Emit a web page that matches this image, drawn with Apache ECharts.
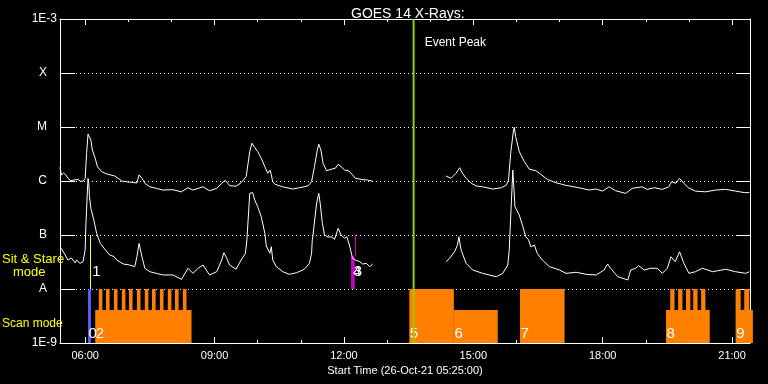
<!DOCTYPE html>
<html><head><meta charset="utf-8">
<script src="https://cdn.jsdelivr.net/npm/echarts@6/dist/echarts.min.js"></script>
<style>html,body{margin:0;padding:0;background:#000;}#c{width:768px;height:384px;}</style>
</head><body><div id="c"></div>
<script>
// ---- data (time "HH:MM", flux W/m^2) ----
const longData = [["05:25",1.8e-6],["05:27",1.3e-6],["05:30",1.4e-6],["05:33",1.3e-6],["05:36",1.12e-6],["05:40",1.01e-6],["05:44",1.04e-6],["05:50",1.07e-6],["05:53",0.99e-6],["05:57",0.99e-6],["06:00",1.12e-6],["06:02",3.26e-6],["06:04",7.4e-6],["06:06",7.1e-6],["06:08",5.7e-6],["06:10",3.75e-6],["06:14",2.63e-6],["06:17",1.84e-6],["06:23",1.49e-6],["06:30",1.35e-6],["06:41",1.24e-6],["06:46",1.12e-6],["06:51",1.0e-6],["07:02",0.95e-6],["07:12",0.92e-6],["07:15",1.3e-6],["07:19",1.12e-6],["07:23",0.91e-6],["07:30",0.78e-6],["07:39",0.73e-6],["07:48",0.68e-6],["08:02",0.69e-6],["08:14",0.63e-6],["08:23",0.75e-6],["08:30",0.68e-6],["08:37",0.73e-6],["08:44",0.78e-6],["08:53",0.66e-6],["09:03",0.73e-6],["09:10",0.91e-6],["09:15",1.03e-6],["09:21",0.82e-6],["09:30",0.80e-6],["09:37",0.93e-6],["09:44",1.2e-6],["09:49",3.5e-6],["09:52",5.0e-6],["09:56",4.17e-6],["10:00",3.5e-6],["10:05",2.63e-6],["10:10",1.84e-6],["10:14",1.39e-6],["10:17",1.6e-6],["10:19",1.3e-6],["10:21",0.97e-6],["10:24",0.87e-6],["10:35",0.78e-6],["10:49",0.71e-6],["10:58",0.75e-6],["11:10",0.81e-6],["11:15",0.97e-6],["11:19",1.84e-6],["11:23",3.75e-6],["11:25",4.8e-6],["11:28",3.75e-6],["11:31",2.13e-6],["11:36",1.55e-6],["11:42",1.65e-6],["11:48",1.72e-6],["11:52",2.04e-6],["11:56",1.84e-6],["12:01",1.6e-6],["12:07",1.53e-6],["12:12",1.3e-6],["12:16",1.12e-6],["12:24",1.07e-6],["12:33",1.04e-6],["12:40",0.99e-6],["13:30",null],["14:22",1.24e-6],["14:29",1.12e-6],["14:36",1.39e-6],["14:41",1.76e-6],["14:45",1.39e-6],["14:50",1.12e-6],["14:57",0.91e-6],["15:04",0.81e-6],["15:13",0.78e-6],["15:27",0.71e-6],["15:39",0.75e-6],["15:46",0.84e-6],["15:49",1.04e-6],["15:52",3.26e-6],["15:56",8.8e-6],["15:57",9.9e-6],["15:59",6.6e-6],["16:04",3.5e-6],["16:11",2.28e-6],["16:18",1.65e-6],["16:27",1.55e-6],["16:34",1.33e-6],["16:43",1.07e-6],["16:55",0.93e-6],["17:09",0.83e-6],["17:27",0.75e-6],["17:41",0.68e-6],["17:51",0.71e-6],["18:00",0.65e-6],["18:09",0.78e-6],["18:18",0.66e-6],["18:32",0.59e-6],["18:41",0.73e-6],["18:55",0.78e-6],["19:02",0.70e-6],["19:12",0.75e-6],["19:23",0.70e-6],["19:32",0.78e-6],["19:36",0.97e-6],["19:42",0.91e-6],["19:47",1.12e-6],["19:53",0.91e-6],["19:59",0.75e-6],["20:09",0.65e-6],["20:23",0.63e-6],["20:37",0.68e-6],["20:51",0.70e-6],["21:05",0.65e-6],["21:17",0.61e-6],["21:24",0.61e-6]];

const shortData = [["05:25",6.0e-8],["05:28",5.3e-8],["05:32",4.3e-8],["05:36",3.44e-8],["05:41",3.75e-8],["05:46",3.05e-8],["05:48",3.44e-8],["05:53",2.99e-8],["05:57",3.2e-8],["06:00",5.3e-8],["06:01",1.53e-7],["06:03",6.0e-7],["06:04",1.12e-6],["06:05",9.0e-7],["06:06",5.1e-7],["06:08",3.1e-7],["06:12",1.9e-7],["06:16",1.07e-7],["06:21",7.0e-8],["06:28",5.3e-8],["06:34",4.27e-8],["06:40",4.0e-8],["06:44",3.44e-8],["06:53",2.9e-8],["07:02",2.78e-8],["07:09",2.59e-8],["07:12",3.96e-8],["07:15",7.0e-8],["07:19",3.96e-8],["07:23",2.42e-8],["07:30",2.09e-8],["07:39",1.95e-8],["07:48",1.82e-8],["08:02",1.82e-8],["08:14",1.51e-8],["08:23",2.42e-8],["08:30",1.95e-8],["08:37",2.42e-8],["08:44",2.78e-8],["08:53",1.82e-8],["09:03",2.09e-8],["09:10",3.44e-8],["09:13",4.7e-8],["09:17",3.7e-8],["09:21",2.78e-8],["09:30",2.32e-8],["09:37",3.44e-8],["09:43",4.58e-8],["09:45",8.1e-8],["09:49",5.9e-7],["09:53",6.1e-7],["09:56",4.45e-7],["10:00",3.34e-7],["10:05",2.18e-7],["10:10",1.07e-7],["10:12",6.25e-8],["10:17",4.58e-8],["10:19",6.07e-8],["10:21",3.44e-8],["10:26",2.59e-8],["10:35",2.09e-8],["10:44",1.87e-8],["10:54",2.0e-8],["11:05",2.32e-8],["11:12",2.99e-8],["11:15",4.58e-8],["11:16",8.1e-8],["11:17",1.0e-7],["11:22",3.87e-7],["11:25",5.9e-7],["11:27",3.87e-7],["11:30",1.65e-7],["11:33",1.0e-7],["11:38",9.1e-8],["11:42",9.3e-8],["11:47",8.3e-8],["11:52",1.33e-7],["11:56",1.0e-7],["12:01",8.7e-8],["12:04",9.3e-8],["12:08",6.25e-8],["12:12",3.7e-8],["12:16",3.44e-8],["12:22",3.2e-8],["12:26",2.9e-8],["12:31",2.99e-8],["12:36",2.6e-8],["12:40",2.9e-8],["13:30",null],["14:22",3.2e-8],["14:27",3.7e-8],["14:34",4.9e-8],["14:38",6.5e-8],["14:40",9.3e-8],["14:43",5.3e-8],["14:50",2.99e-8],["14:59",2.25e-8],["15:13",1.95e-8],["15:22",1.82e-8],["15:32",1.69e-8],["15:41",1.95e-8],["15:48",2.78e-8],["15:50",5.3e-8],["15:55",1.6e-6],["15:56",1.65e-6],["15:58",3.34e-7],["16:04",2.34e-7],["16:09",1.43e-7],["16:13",9.3e-8],["16:17",8.1e-8],["16:20",6.07e-8],["16:25",6.5e-8],["16:29",4.58e-8],["16:36",3.44e-8],["16:46",2.59e-8],["17:00",2.25e-8],["17:09",1.95e-8],["17:23",2.04e-8],["17:37",1.87e-8],["17:51",1.82e-8],["18:02",2.25e-8],["18:07",2.9e-8],["18:11",2.42e-8],["18:21",1.69e-8],["18:35",1.47e-8],["18:39",2.25e-8],["18:46",2.42e-8],["18:50",2.7e-8],["18:58",2.25e-8],["19:07",2.42e-8],["19:16",2.42e-8],["19:23",1.95e-8],["19:30",2.42e-8],["19:35",3.96e-8],["19:41",3.2e-8],["19:47",4.9e-8],["19:53",2.99e-8],["20:00",1.95e-8],["20:09",2.09e-8],["20:19",2.42e-8],["20:33",2.09e-8],["20:51",2.32e-8],["21:05",2.09e-8],["21:19",1.95e-8],["21:24",2.09e-8]];

// axis ticks
const yTickLabels = ["1E-9","A","B","C","M","X","1E-3"];
const xTickLabels = ["06:00","09:00","12:00","15:00","18:00","21:00"];
const xMinorTicks = ["06:00","07:00","08:00","09:00","10:00","11:00","12:00","13:00","14:00","15:00","16:00","17:00","18:00","19:00","20:00","21:00"];
const xStart = "05:25", xEnd = "21:25";

// scan mode blocks: [label, start, end, top flux]  (bottom = 1E-9)
const scanBlocks = [["0","06:04","06:08",1e-8],["2","06:14","08:28",4.1e-9],["5","13:31","14:33",1e-8],["6","14:33","15:34",4.1e-9],["7","16:05","17:07",1e-8],["8","19:28","20:29",4.1e-9],["9","21:05","21:29",4.1e-9]];
// raster steps on top of scan blocks: [start, end]  (from 4.1E-9 up to 1E-8)
const scanSteps = [["06:19","06:24"],["06:29","06:34"],["06:40","06:45"],["06:51","06:56"],["07:01","07:06"],["07:12","07:17"],["07:23","07:28"],["07:33","07:38"],["07:44","07:49"],["07:55","08:00"],["08:05","08:10"],["08:16","08:21"],["19:34","19:40"],["19:45","19:51"],["19:56","20:02"],["20:06","20:12"],["20:17","20:23"],["21:05","21:12"],["21:17","21:24"]];
// sit & stare marks: [label, start, end, bottom flux, top flux]
const stareMarks = [["1","06:07","06:07",1e-8,1e-7],["3","12:15","12:15",4e-8,1e-7],["4","12:10","12:15",1e-8,4e-8]];
const eventPeak = "13:37";

// ---- helpers / styles ----
const T = s => { const p = s.split(':').map(Number); return p[0]*60 + p[1]; };
const FONT = 'Liberation Sans';
const scanColor = { "0": "#5c5cff" };
const stareColor = { "1": "#ffff00", "3": "#cc00cc", "4": "#cc00cc" };
const stareLabelDx = { "1": 2, "3": -1, "4": 2 };
const ORANGE = '#ff8000';

const chart = echarts.init(document.getElementById('c'), null, {renderer: 'canvas'});
const xBase = {type: 'value', min: T(xStart), max: T(xEnd), splitLine: {show: false}};
const white = {color: '#fff', width: 1};

const option = {
  backgroundColor: '#000',
  animation: false,
  textStyle: {fontFamily: FONT},
  title: {text: 'GOES 14 X-Rays:', left: 346, top: 2, textStyle: {color: '#fff', fontSize: 14, fontWeight: 'normal', fontFamily: FONT}},
  grid: {left: 60, right: 18, top: 19, bottom: 41},
  xAxis: [
    Object.assign({}, xBase, {position: 'bottom',
      axisLine: {lineStyle: white},
      axisTick: {inside: true, length: 6, lineStyle: white, customValues: xTickLabels.map(T)},
      axisLabel: {color: '#fff', fontSize: 11, margin: 7, customValues: xTickLabels.map(T),
        formatter: v => xTickLabels[xTickLabels.map(T).indexOf(Math.round(v))] || ''},
      name: 'Start Time (26-Oct-21 05:25:00)', nameLocation: 'middle', nameGap: 19,
      nameTextStyle: {color: '#fff', fontSize: 11, fontFamily: FONT}}),
    Object.assign({}, xBase, {position: 'bottom', axisLine: {show: false},
      axisTick: {inside: true, length: 3, lineStyle: white, customValues: xMinorTicks.map(T)},
      axisLabel: {show: false}}),
    Object.assign({}, xBase, {position: 'top', axisLine: {lineStyle: white},
      axisTick: {inside: true, length: 6, lineStyle: white, customValues: xTickLabels.map(T)},
      axisLabel: {show: false}}),
    Object.assign({}, xBase, {position: 'top', axisLine: {show: false},
      axisTick: {inside: true, length: 3, lineStyle: white, customValues: xMinorTicks.map(T)},
      axisLabel: {show: false}})
  ],
  yAxis: [
    {type: 'log', logBase: 10, min: 1e-9, max: 1e-3, position: 'left', splitNumber: 6,
     axisLine: {show: true, lineStyle: white},
     axisTick: {show: true, inside: true, length: 15, lineStyle: white},
     axisLabel: {margin: 3, align: 'right',
       formatter: v => { const e = Math.round(Math.log10(v)); const s = yTickLabels[e + 9];
         return (e === -3 || e === -9) ? '{n|' + s + '}' : '{l|' + s + '}'; },
       rich: {n: {color: '#fff', fontSize: 12, fontFamily: FONT}, l: {color: '#fff', fontSize: 12, fontFamily: FONT, padding: [0, 10, 0, 0]}}},
     splitLine: {show: true, showMinLine: false, showMaxLine: false, lineStyle: {color: '#fff', width: 1, type: [1, 3]}}},
    {type: 'log', logBase: 10, min: 1e-9, max: 1e-3, position: 'right', splitNumber: 6,
     axisLine: {show: true, lineStyle: white},
     axisTick: {show: true, inside: true, length: 14, lineStyle: white},
     axisLabel: {show: false}, splitLine: {show: false}}
  ],
  graphic: [
    {type: 'text', x: 2, y: 259, style: {text: 'Sit & Stare', fill: '#ffff00', font: '13px ' + FONT, verticalAlign: 'middle'}},
    {type: 'text', x: 13, y: 272, style: {text: 'mode', fill: '#ffff00', font: '13px ' + FONT, verticalAlign: 'middle'}},
    {type: 'text', x: 2, y: 324, style: {text: 'Scan mode', fill: '#ffff00', font: '12px ' + FONT, verticalAlign: 'middle'}}
  ],
  series: [
    {type: 'custom', name: 'scan', clip: false, encode: {x: [0, 1], y: [2, 3]},
     data: scanBlocks.map(b => [T(b[1]), T(b[2]), 1e-9, b[3]]),
     renderItem: (params, api) => {
       const b = scanBlocks[params.dataIndex];
       const p1 = api.coord([api.value(0), api.value(3)]);
       const p2 = api.coord([api.value(1), api.value(2)]);
       return {type: 'group', children: [
         {type: 'rect', shape: {x: p1[0], y: p1[1], width: p2[0] - p1[0], height: p2[1] - p1[1]}, style: {fill: scanColor[b[0]] || ORANGE}},
         {type: 'text', z2: 10, x: p1[0] + 0.5, y: p2[1] - 2, style: {text: b[0], fill: '#fff', font: '15px ' + FONT, align: 'left', verticalAlign: 'bottom'}}
       ]};
     }},
    {type: 'custom', name: 'steps', clip: false, encode: {x: [0, 1], y: [2, 3]},
     data: scanSteps.map(s => [T(s[0]), T(s[1]), 4.1e-9, 1e-8]),
     renderItem: (params, api) => {
       const p1 = api.coord([api.value(0), api.value(3)]);
       const p2 = api.coord([api.value(1), api.value(2)]);
       return {type: 'rect', shape: {x: p1[0], y: p1[1], width: p2[0] - p1[0], height: p2[1] - p1[1] + 1}, style: {fill: ORANGE}};
     }},
    {type: 'custom', name: 'stare', encode: {x: [0, 1], y: [2, 3]},
     data: stareMarks.map(s => [T(s[1]), T(s[2]), s[3], s[4]]),
     renderItem: (params, api) => {
       const s = stareMarks[params.dataIndex];
       const p1 = api.coord([api.value(0), api.value(3)]);
       const p2 = api.coord([api.value(1), api.value(2)]);
       const col = stareColor[s[0]];
       const mid = api.coord([api.value(0), 2.1e-8]);
       let mark;
       if (api.value(0) === api.value(1)) {
         const x = Math.round(p1[0]) + 0.5;
         mark = {type: 'line', shape: {x1: x, y1: p1[1], x2: x, y2: p2[1]}, style: {stroke: col, lineWidth: 1}};
       } else {
         mark = {type: 'rect', shape: {x: p1[0], y: p1[1], width: p2[0] - p1[0], height: p2[1] - p1[1]}, style: {fill: col}};
       }
       return {type: 'group', children: [mark,
         {type: 'text', z2: 10, x: p1[0] + stareLabelDx[s[0]], y: mid[1], style: {text: s[0], fill: '#fff', font: '15px ' + FONT, align: 'left', verticalAlign: 'middle'}}]};
     }},
    {type: 'line', name: '1.0-8.0 A', data: longData.map(d => [T(d[0]), d[1] == null ? '-' : d[1]]),
     showSymbol: false, symbol: 'none', connectNulls: false, lineStyle: {color: '#fff', width: 1}, z: 3},
    {type: 'line', name: '0.5-4.0 A', data: shortData.map(d => [T(d[0]), d[1] == null ? '-' : d[1]]),
     showSymbol: false, symbol: 'none', connectNulls: false, lineStyle: {color: '#fff', width: 1}, z: 3},
    {type: 'custom', name: 'peak', z: 4, encode: {x: 0, y: [1, 2]},
     data: [[T(eventPeak), 1e-3, 1e-9]],
     renderItem: (params, api) => {
       const p1 = api.coord([api.value(0), api.value(1)]);
       const p2 = api.coord([api.value(0), api.value(2)]);
       return {type: 'group', children: [
         {type: 'line', shape: {x1: p1[0], y1: p1[1], x2: p2[0], y2: p2[1]}, style: {stroke: '#99cc00', lineWidth: 2}},
         {type: 'text', x: p1[0] + 11, y: p1[1] + 24, style: {text: 'Event Peak', fill: '#fff', font: '12px ' + FONT, verticalAlign: 'middle'}}
       ]};
     }}
  ]
};
chart.setOption(option);
</script>
</body></html>
